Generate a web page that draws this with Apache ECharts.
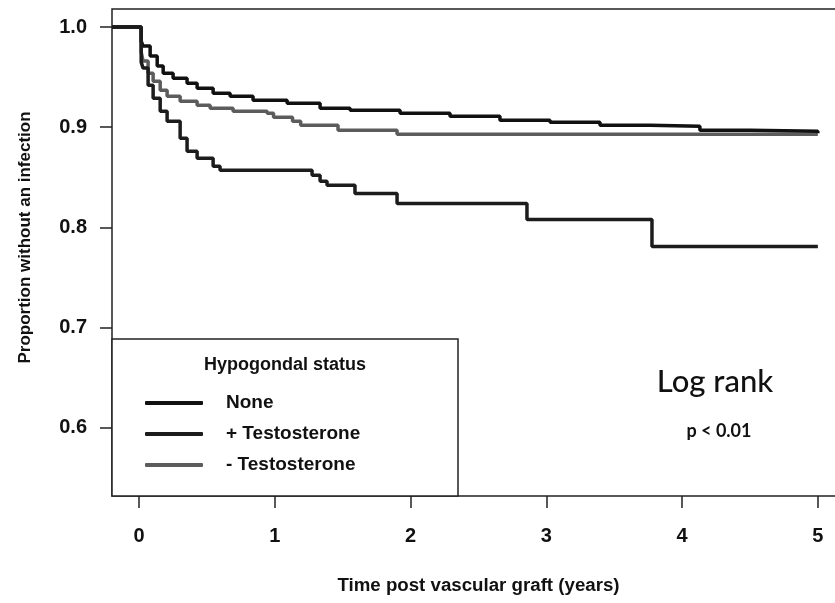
<!DOCTYPE html>
<html>
<head>
<meta charset="utf-8">
<script src="https://cdn.jsdelivr.net/npm/echarts@6/dist/echarts.min.js"></script>
<style>
html,body{margin:0;padding:0;background:#fff;}
#chart{width:835px;height:603px;}
</style>
</head>
<body>
<div id="chart"></div>
<script>
// ---- data ----
const seriesNames = ['None', '+ Testosterone', '- Testosterone'];

const timeNone = [-0.2, 0.015, 0.029, 0.081, 0.133, 0.177, 0.25, 0.353, 0.427, 0.545, 0.67, 0.839, 1.09, 1.333, 1.554, 1.922, 2.29, 2.658, 3.027, 3.395, 3.763, 4.131, 4.5, 5.0];
const survNone = [1.0, 0.986, 0.981, 0.971, 0.961, 0.954, 0.949, 0.944, 0.939, 0.934, 0.931, 0.927, 0.924, 0.919, 0.917, 0.914, 0.911, 0.907, 0.905, 0.902, 0.901, 0.897, 0.896, 0.894];

const timePlus = [-0.2, 0.015, 0.029, 0.066, 0.103, 0.155, 0.206, 0.302, 0.353, 0.427, 0.545, 0.596, 1.274, 1.333, 1.384, 1.59, 1.90, 2.857, 3.778, 5.0];
const survPlus = [1.0, 0.965, 0.959, 0.942, 0.929, 0.916, 0.906, 0.889, 0.876, 0.869, 0.861, 0.857, 0.852, 0.846, 0.842, 0.834, 0.824, 0.808, 0.781, 0.781];

const timeMinus = [-0.2, 0.015, 0.029, 0.066, 0.103, 0.155, 0.206, 0.302, 0.427, 0.523, 0.692, 0.943, 0.99, 1.13, 1.19, 1.465, 1.9, 5.0];
const survMinus = [1.0, 0.975, 0.966, 0.954, 0.946, 0.937, 0.931, 0.926, 0.922, 0.919, 0.916, 0.914, 0.910, 0.906, 0.902, 0.897, 0.893, 0.893];

const xTicks = [0, 1, 2, 3, 4, 5];
const yTicks = [0.6, 0.7, 0.8, 0.9, 1.0];

const legendTitle = 'Hypogondal status';
const noteTitle = 'Log rank';
const noteP = 'p < 0.01';
const xTitle = 'Time post vascular graft (years)';
const yTitle = 'Proportion without an infection';

// ---- build ----
function zip(t, s) { return t.map((v, i) => [v, s[i]]); }
const colors = ['#111111', '#1c1c1c', '#5c5c5c'];
const datasets = [zip(timeNone, survNone), zip(timePlus, survPlus), zip(timeMinus, survMinus)];

const chart = echarts.init(document.getElementById('chart'), null, {renderer: 'canvas'});
const font = '"Liberation Sans", Arial, sans-serif';

chart.setOption({
  animation: false,
  backgroundColor: '#ffffff',
  grid: {
    left: 112, top: 9, width: 733, bottom: 107,
    outerBoundsMode: 'none', containLabel: false,
    show: true, borderColor: '#222', borderWidth: 1.5, backgroundColor: 'transparent'
  },
  xAxis: {
    type: 'value', min: -0.2, max: 5.2,
    splitLine: {show: false},
    axisLine: {show: false, onZero: false},
    axisTick: {show: true, length: 12, lineStyle: {color: '#222', width: 1.5}, customValues: xTicks},
    axisLabel: {customValues: xTicks, margin: 30, color: '#111', fontFamily: font, fontWeight: 'bold', fontSize: 20},
    name: xTitle, nameLocation: 'middle', nameGap: 80,
    nameTextStyle: {color: '#111', fontFamily: font, fontWeight: 'bold', fontSize: 18.7}
  },
  yAxis: {
    type: 'value', min: 0.532, max: 1.018,
    splitLine: {show: false},
    axisLine: {show: false, onZero: false},
    axisTick: {show: true, length: 12, lineStyle: {color: '#222', width: 1.5}, customValues: yTicks},
    axisLabel: {customValues: yTicks, margin: 25, color: '#111', fontFamily: font, fontWeight: 'bold', fontSize: 20,
      formatter: v => v.toFixed(1)},
    name: yTitle, nameLocation: 'middle', nameGap: 78,
    nameTextStyle: {color: '#111', fontFamily: font, fontWeight: 'bold', fontSize: 17, padding: [0, 0, 0, 30]}
  },
  legend: {
    data: seriesNames,
    orient: 'vertical',
    left: 140, top: 388,
    icon: 'roundRect',
    itemWidth: 58, itemHeight: 4, itemGap: 11,
    z: 10,
    textStyle: {color: '#111', fontFamily: font, fontWeight: 'bold', fontSize: 19, lineHeight: 20, padding: [0, 0, 0, 18]}
  },
  graphic: [
    {type: 'rect', z: 5, shape: {x: 112, y: 339, width: 346, height: 157},
     style: {fill: '#fff', stroke: '#222', lineWidth: 1.5}},
    {type: 'text', z: 6, x: 285, y: 365,
     style: {text: legendTitle, fill: '#111', font: 'bold 18px ' + font, align: 'center', verticalAlign: 'middle'}},
    {type: 'text', z: 6, x: 715, y: 382,
     style: {text: noteTitle, fill: '#111', font: '500 31px Lato, "Open Sans", sans-serif', align: 'center', verticalAlign: 'middle'}},
    {type: 'text', z: 6, x: 719, y: 431,
     style: {text: noteP, fill: '#111', font: 'bold 18px Lato, "Open Sans", sans-serif', align: 'center', verticalAlign: 'middle'}}
  ],
  series: seriesNames.map((n, i) => ({
    name: n, type: 'line', step: 'end', data: datasets[i],
    symbol: 'none', clip: true,
    color: colors[i],
    lineStyle: {color: colors[i], width: 3.5},
    z: i === 2 ? 2 : 3
  }))
});
</script>
</body>
</html>
